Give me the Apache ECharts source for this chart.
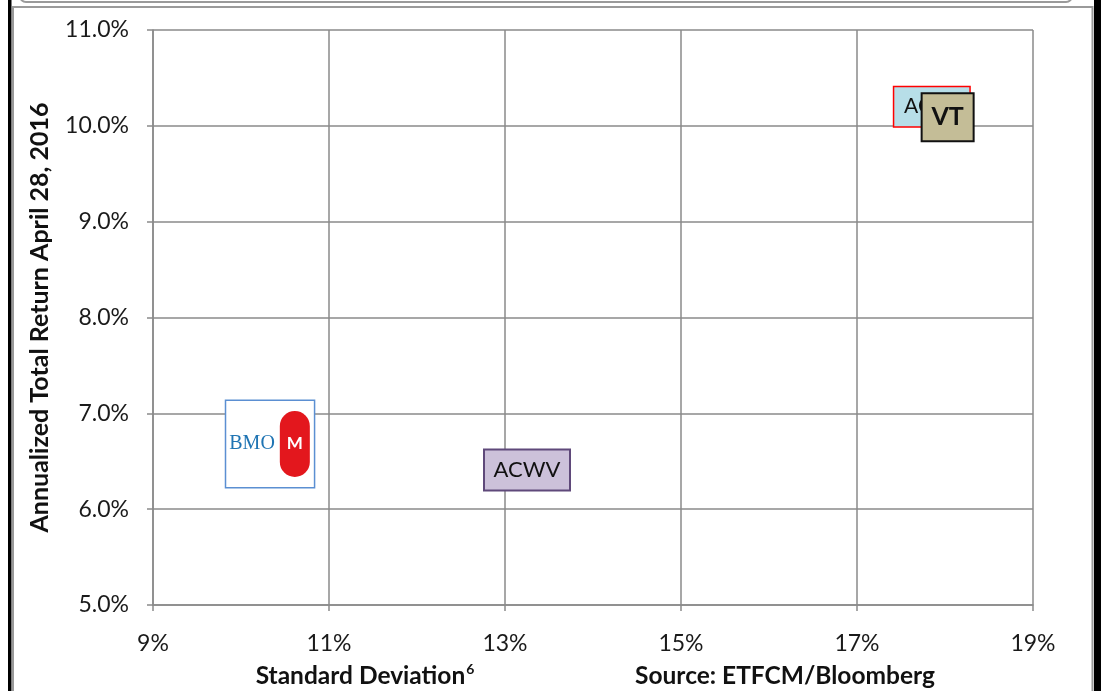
<!DOCTYPE html>
<html lang="en">
<head>
<meta charset="UTF-8">
<title>Risk vs Return</title>
<script src="https://cdn.jsdelivr.net/npm/echarts@6/dist/echarts.min.js"></script>
<style>
    html, body { margin: 0; padding: 0; background: #fff; }
    #chart { width: 1101px; height: 691px; }
</style>
</head>
<body>
<div id="chart"></div>
<script>
    // fund labels and their position (std dev %, annualized return %)
    const funds = ['BMO', 'ACWV', 'ACWI', 'VT'];
    const stdDev = [10.33, 13.25, 17.85, 18.03];
    const totalReturn = [6.68, 6.41, 10.20, 10.09];

    // axis ranges (percent)
    const xMin = 9, xMax = 19, xStep = 2;
    const yMin = 5, yMax = 11, yStep = 1;

    const gridColor = '#8a8a8a';
    const textFont = 'Lato, "Open Sans", sans-serif';

    // label boxes per fund
    const labelStyles = {
        BMO: {
            formatter: '{t|BMO}{g|}{logo|M}',
            backgroundColor: '#fff',
            borderColor: '#5b8fd2',
            borderWidth: 1.5,
            padding: [10, 4, 10, 3],
            rich: {
                t: { fontFamily: '"Liberation Serif", serif', fontSize: 20, color: '#1f74b3', verticalAlign: 'middle' },
                g: { width: 5 },
                logo: {
                    backgroundColor: '#e3171d', borderRadius: 15, width: 30, height: 66, lineHeight: 66,
                    align: 'center', verticalAlign: 'middle', color: '#fff', fontWeight: 'bold', fontSize: 17,
                    fontFamily: textFont
                }
            }
        },
        ACWV: {
            formatter: 'ACWV', fontSize: 22, color: '#111',
            backgroundColor: '#ccc1da', borderColor: '#5f497a', borderWidth: 2,
            width: 84, height: 39, lineHeight: 39
        },
        ACWI: {
            formatter: 'ACWI', fontSize: 21, color: '#111',
            backgroundColor: '#b7dee8', borderColor: '#ff0000', borderWidth: 1.5,
            width: 75, height: 39, lineHeight: 39
        },
        VT: {
            formatter: 'VT', fontSize: 25, fontWeight: 'bold', color: '#111',
            backgroundColor: '#c4bd97', borderColor: '#111', borderWidth: 2,
            width: 50, height: 46, lineHeight: 46
        }
    };

    const series = funds.map((name, i) => ({
        type: 'scatter',
        name: name,
        z: 2 + i,
        symbolSize: 1,
        itemStyle: { color: 'rgba(0,0,0,0)', opacity: 1 },
        data: [[stdDev[i], totalReturn[i]]],
        label: Object.assign({
            show: true,
            position: 'inside',
            align: 'center',
            verticalAlign: 'middle',
            fontFamily: textFont
        }, labelStyles[name])
    }));

    const chart = echarts.init(document.getElementById('chart'));
    chart.setOption({
        animation: false,
        grid: { left: 153, right: 68, top: 30, bottom: 86 },
        xAxis: {
            type: 'value', min: xMin, max: xMax, interval: xStep,
            axisLine: { lineStyle: { color: gridColor, width: 1.5 } },
            axisTick: { show: true, length: 6, lineStyle: { color: gridColor, width: 1.5 } },
            splitLine: { lineStyle: { color: gridColor, width: 1.5 } },
            axisLabel: { formatter: v => v + '%', fontSize: 23, color: '#1a1a1a', fontFamily: textFont, margin: 27 }
        },
        yAxis: {
            type: 'value', min: yMin, max: yMax, interval: yStep,
            name: 'Annualized Total Return April 28, 2016',
            nameLocation: 'middle', nameGap: 101,
            nameTextStyle: { fontSize: 25, fontWeight: 'bold', color: '#111', fontFamily: textFont },
            axisLine: { show: true, lineStyle: { color: gridColor, width: 1.5 } },
            axisTick: { show: true, length: 6, lineStyle: { color: gridColor, width: 1.5 } },
            splitLine: { lineStyle: { color: gridColor, width: 1.5 } },
            axisLabel: { formatter: v => v.toFixed(1) + '%', fontSize: 23, color: '#1a1a1a', fontFamily: textFont, margin: 24 }
        },
        series: series,
        graphic: [
            // page frame
            { type: 'rect', shape: { x: 20, y: -20, width: 1052, height: 22, r: 6 }, style: { fill: 'none', stroke: '#9a9a9a', lineWidth: 2 } },
            { type: 'rect', shape: { x: 8, y: 0, width: 3.5, height: 691 }, style: { fill: '#000' } },
            { type: 'rect', shape: { x: 1094, y: 0, width: 7, height: 691 }, style: { fill: '#000' } },
            { type: 'polyline', shape: { points: [[13, 691], [13, 7], [1092.5, 7], [1092.5, 691]] }, style: { fill: 'none', stroke: '#9a9a9a', lineWidth: 2 } },
            // x axis captions
            {
                type: 'text', x: 365, y: 676,
                style: {
                    text: '{a|Standard Deviation}{s|6}',
                    align: 'center', verticalAlign: 'middle',
                    rich: {
                        a: { fontSize: 24.5, fontWeight: 'bold', fill: '#111', fontFamily: textFont },
                        s: { fontSize: 14, fontWeight: 'bold', fill: '#111', fontFamily: textFont, verticalAlign: 'top', padding: [0, 0, 14, 1] }
                    }
                }
            },
            {
                type: 'text', x: 785, y: 676,
                style: { text: 'Source: ETFCM/Bloomberg', align: 'center', verticalAlign: 'middle', fontSize: 24.5, fontWeight: 'bold', fill: '#111', fontFamily: textFont }
            }
        ]
    });
</script>
</body>
</html>
